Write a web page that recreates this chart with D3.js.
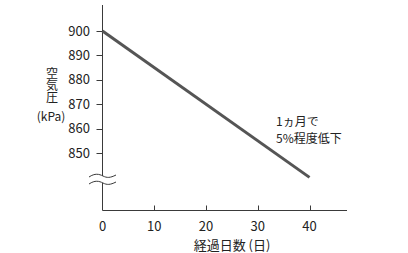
<!DOCTYPE html>
<html lang="ja">
<head>
	<meta charset="UTF-8">
	<title>空気圧</title>
	<script src="https://cdn.jsdelivr.net/npm/d3@7/dist/d3.min.js"></script>
	<style>
		html, body{
			margin: 0;
			padding: 0;
			background: #fff;
		}
		svg{
			display: block;
			font-family: "Noto Sans CJK JP", "Noto Sans", sans-serif;
		}
	</style>
</head>
<body>
	<div class="chart"></div>
	<script>
		// data
		var days = [0, 40];
		var pressure = [900, 840];
		var xTicks = [0, 10, 20, 30, 40];
		var yTicks = [850, 860, 870, 880, 890, 900];
		var yLabel = '空気圧';
		var yUnit = '(kPa)';
		var xLabel = '経過日数 (日)';
		var note = ['1ヵ月で', '5%程度低下'];

		var width = 408;
		var height = 253;
		var origin = { x: 102.5, y: 210.5 };

		var xScale = d3.scaleLinear()
						.domain([0, 40])
						.range([origin.x, 309.5]);
		var yScale = d3.scaleLinear()
						.domain([850, 900])
						.range([153, 31]);

		var svg = d3.select('.chart')
					.append('svg')
					.attr('width', width)
					.attr('height', height);

		var axisColor = '#3a3a3a';
		var breakTop = 176, breakBottom = 183;

		// y axis (broken)
		svg.append('line')
			.attr('x1', origin.x).attr('x2', origin.x)
			.attr('y1', 5).attr('y2', breakTop)
			.attr('stroke', axisColor).attr('stroke-width', 1);
		svg.append('line')
			.attr('x1', origin.x).attr('x2', origin.x)
			.attr('y1', breakBottom).attr('y2', origin.y)
			.attr('stroke', axisColor).attr('stroke-width', 1);

		// break marks
		[breakTop, breakBottom].forEach(function(y){
			svg.append('path')
				.attr('d', 'M89,' + (y + 1) + ' C95,' + (y - 3) + ' 99,' + (y - 2) + ' 103,' + y +
					' S110,' + (y + 2) + ' 116,' + (y - 1))
				.attr('fill', 'none')
				.attr('stroke', axisColor)
				.attr('stroke-width', 1);
		});

		// y ticks
		var yg = svg.append('g');
		yg.selectAll('line')
			.data(yTicks)
			.enter()
			.append('line')
			.attr('x1', origin.x - 6).attr('x2', origin.x)
			.attr('y1', function(d){ return Math.round(yScale(d)) + 0.5; })
			.attr('y2', function(d){ return Math.round(yScale(d)) + 0.5; })
			.attr('stroke', axisColor);
		yg.selectAll('text')
			.data(yTicks)
			.enter()
			.append('text')
			.attr('x', 90)
			.attr('y', function(d){ return yScale(d); })
			.attr('dy', '0.36em')
			.attr('text-anchor', 'end')
			.attr('font-size', 13)
			.attr('fill', '#222')
			.text(function(d){ return d; });

		// x axis
		svg.append('line')
			.attr('x1', origin.x).attr('x2', 347)
			.attr('y1', origin.y).attr('y2', origin.y)
			.attr('stroke', axisColor).attr('stroke-width', 1);
		var xg = svg.append('g');
		xg.selectAll('line')
			.data(xTicks.slice(1))
			.enter()
			.append('line')
			.attr('x1', function(d){ return Math.round(xScale(d)) + 0.5; })
			.attr('x2', function(d){ return Math.round(xScale(d)) + 0.5; })
			.attr('y1', origin.y - 5).attr('y2', origin.y)
			.attr('stroke', axisColor);
		xg.selectAll('text')
			.data(xTicks)
			.enter()
			.append('text')
			.attr('x', function(d){ return xScale(d); })
			.attr('y', 226)
			.attr('dy', '0.36em')
			.attr('text-anchor', 'middle')
			.attr('font-size', 13)
			.attr('fill', '#222')
			.text(function(d){ return d; });

		svg.append('text')
			.attr('x', 232)
			.attr('y', 245)
			.attr('dy', '0.36em')
			.attr('text-anchor', 'middle')
			.attr('font-size', 13)
			.attr('fill', '#222')
			.text(xLabel);

		// y label, written top to bottom
		svg.append('text')
			.attr('x', 52)
			.attr('y', 67)
			.attr('text-anchor', 'start')
			.style('writing-mode', 'vertical-rl')
			.attr('font-size', 12)
			.attr('fill', '#222')
			.text(yLabel);
		svg.append('text')
			.attr('x', 51)
			.attr('y', 117)
			.attr('dy', '0.36em')
			.attr('text-anchor', 'middle')
			.attr('font-size', 12)
			.attr('fill', '#222')
			.text(yUnit);

		// line
		var linePath = d3.line()
						.x(function(d, i){ return xScale(days[i]); })
						.y(function(d){ return yScale(d); });
		svg.append('path')
			.attr('d', linePath(pressure))
			.attr('fill', 'none')
			.attr('stroke', '#555')
			.attr('stroke-width', 3);

		// annotation
		svg.append('g')
			.selectAll('text')
			.data(note)
			.enter()
			.append('text')
			.attr('x', 276)
			.attr('y', function(d, i){ return 121.5 + i * 17.5; })
			.attr('dy', '0.36em')
			.attr('font-size', 12)
			.attr('fill', '#222')
			.text(function(d){ return d; });
	</script>
</body>
</html>
